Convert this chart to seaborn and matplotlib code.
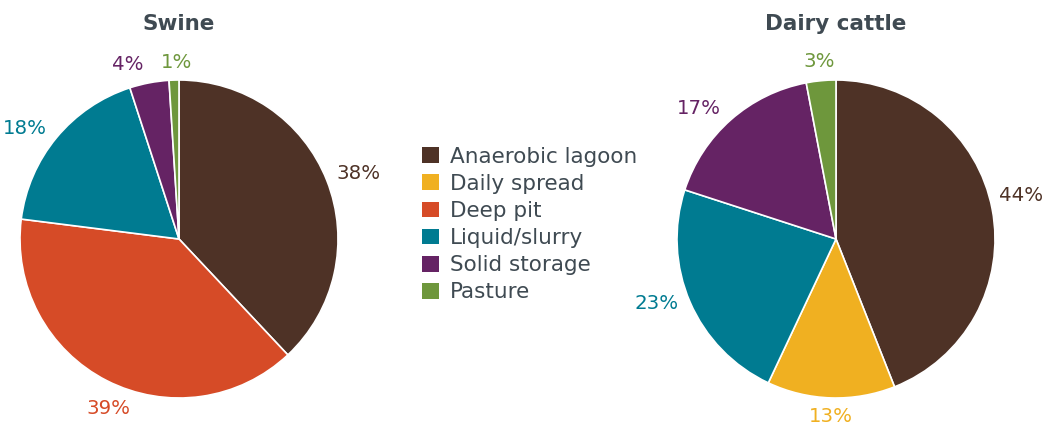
import matplotlib
matplotlib.use("Agg")
import numpy as np
import matplotlib.pyplot as plt
from matplotlib.patches import Patch
import seaborn as sns

sns.set_theme(style="white")
plt.rcParams["font.family"] = ["DejaVu Sans"]

categories = ["Anaerobic lagoon", "Daily spread", "Deep pit",
              "Liquid/slurry", "Solid storage", "Pasture"]
colors = ["#4E3226", "#F0B021", "#D64B27", "#007B91", "#652364", "#6E973C"]

swine_labels = ["Anaerobic lagoon", "Deep pit", "Liquid/slurry",
                "Solid storage", "Pasture"]
swine_values = [38, 39, 18, 4, 1]

dairy_labels = ["Anaerobic lagoon", "Daily spread", "Liquid/slurry",
                "Solid storage", "Pasture"]
dairy_values = [44, 13, 23, 17, 3]

titles = ["Swine", "Dairy cattle"]

color_map = dict(zip(categories, colors))
title_color = "#3F4A52"

fig = plt.figure(figsize=(10.44, 4.3), dpi=100)
ax_swine = fig.add_axes([20 / 1044, 32 / 430, 318 / 1044, 318 / 430])
ax_dairy = fig.add_axes([677 / 1044, 32 / 430, 318 / 1044, 318 / 430])


def draw_pie(ax, labels, values, title, nudge):
    cols = [color_map[c] for c in labels]
    wedges, _ = ax.pie(
        values,
        colors=cols,
        startangle=90,
        counterclock=False,
        wedgeprops=dict(edgecolor="white", linewidth=1.2),
    )
    # percentage labels just outside each wedge, pushed out further on the sides;
    # small angular nudges keep neighbouring labels apart
    for w, v, c, dn in zip(wedges, values, cols, nudge):
        ang = np.deg2rad((w.theta1 + w.theta2) / 2 + dn)
        ca, sa = np.cos(ang), np.sin(ang)
        d = 1.06 + 0.13 * abs(ca) + 0.05 * abs(sa)
        ax.text(d * ca, d * sa, f"{v}%", color=c, fontsize=14.2,
                ha="center", va="center", clip_on=False)
    ax.set_aspect("equal")
    ax.set_xlim(-1, 1)
    ax.set_ylim(-1, 1)
    ax.set_title(title, fontsize=15.5, fontweight="bold", color=title_color, pad=36)


draw_pie(ax_swine, swine_labels, swine_values, titles[0], [-1.5, 4.5, 4, 5.7, -1])
draw_pie(ax_dairy, dairy_labels, dairy_values, titles[1], [2.5, 0, -3.5, 5, 0])

handles = [Patch(facecolor=c, edgecolor="none", label=l) for l, c in zip(categories, colors)]
fig.legend(
    handles=handles,
    loc="center left",
    bbox_to_anchor=(403 / 1044, 1 - 224.5 / 430),
    frameon=False,
    fontsize=15.5,
    handlelength=0.75,
    handleheight=0.75,
    handletextpad=0.55,
    labelspacing=0.33,
    labelcolor=title_color,
)

fig.savefig("out.png", dpi=100)
